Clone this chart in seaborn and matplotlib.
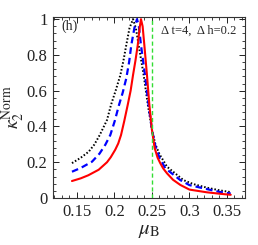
import numpy as np
import pandas as pd
import matplotlib
matplotlib.use("Agg")
import matplotlib.pyplot as plt
from matplotlib.ticker import MultipleLocator
import seaborn as sns

# values
red_x = [0.1433, 0.155, 0.165, 0.1789, 0.19, 0.195, 0.201, 0.205, 0.2087, 0.213, 0.2176, 0.2215,
         0.2247, 0.228, 0.231, 0.2335, 0.2353, 0.2375, 0.2398, 0.2433, 0.2465, 0.25, 0.2535,
         0.2575, 0.2611, 0.265, 0.27, 0.278, 0.2878, 0.30, 0.323, 0.34, 0.355]
red_y = [0.095, 0.11, 0.127, 0.158, 0.2, 0.228, 0.27, 0.305, 0.352, 0.43, 0.52, 0.60,
         0.687, 0.77, 0.855, 0.95, 1.0, 0.96, 0.855, 0.687, 0.52, 0.38, 0.28,
         0.225, 0.194, 0.165, 0.138, 0.102, 0.073, 0.047, 0.032, 0.024, 0.018]

blue_x = [0.1433, 0.155, 0.17, 0.18, 0.1878, 0.1944, 0.2003, 0.206, 0.211, 0.2157, 0.2195,
          0.2224, 0.2265, 0.23, 0.2325, 0.2353, 0.2407, 0.2455, 0.25, 0.2545, 0.26,
          0.2678, 0.2878, 0.30, 0.323, 0.34, 0.355]
blue_y = [0.147, 0.168, 0.203, 0.248, 0.298, 0.352, 0.43, 0.52, 0.59, 0.669, 0.76,
          0.855, 0.95, 1.0, 0.96, 0.855, 0.687, 0.52, 0.38, 0.29, 0.225,
          0.166, 0.10, 0.072, 0.05, 0.034, 0.025]

black_x = [0.1433, 0.155, 0.1656, 0.173, 0.1803, 0.19, 0.1953, 0.2015, 0.2078, 0.212, 0.2157, 0.22,
           0.2247, 0.2285, 0.2322, 0.2389, 0.2445, 0.25, 0.2545, 0.26, 0.27, 0.292,
           0.305, 0.323, 0.34, 0.355]
black_y = [0.195, 0.225, 0.259, 0.298, 0.352, 0.436, 0.52, 0.60, 0.687, 0.77, 0.855, 0.95,
           1.0, 0.95, 0.855, 0.687, 0.52, 0.38, 0.30, 0.245, 0.175, 0.10,
           0.078, 0.058, 0.043, 0.033]

mu_c = 0.25
x_ticks = [0.15, 0.2, 0.25, 0.3, 0.35]
x_tick_labels = ["0.15", "0.2", "0.25", "0.3", "0.35"]
y_ticks = [0, 0.2, 0.4, 0.6, 0.8, 1]
y_tick_labels = ["0", "0.2", "0.4", "0.6", "0.8", "1"]

sns.set_style("ticks")
plt.rcParams["font.family"] = ["Liberation Serif", "DejaVu Serif"]
plt.rcParams["mathtext.fontset"] = "stix"
plt.rcParams["axes.linewidth"] = 0.8

fig = plt.figure(figsize=(2.58, 2.45), dpi=100)
ax = fig.add_axes([0.2054, 0.1918, 0.7442, 0.7388])

sns.lineplot(x=black_x, y=black_y, ax=ax, color="black", lw=1.4,
             linestyle=(0, (0.8, 1.0)), sort=False, estimator=None)
sns.lineplot(x=blue_x, y=blue_y, ax=ax, color="#0000ff", lw=1.6,
             linestyle=(0, (3.0, 1.8)), sort=False, estimator=None)
sns.lineplot(x=red_x, y=red_y, ax=ax, color="#ff0000", lw=1.5,
             sort=False, estimator=None)
ax.axvline(mu_c, color="#33dd33", lw=1.0, linestyle=(0, (3, 2)))

ax.set_xlim(0.118, 0.374)
ax.set_ylim(0, 1.012)
ax.set_xticks(x_ticks)
ax.set_xticklabels(x_tick_labels)
ax.set_yticks(y_ticks)
ax.set_yticklabels(y_tick_labels)
ax.xaxis.set_minor_locator(MultipleLocator(0.01))
ax.yaxis.set_minor_locator(MultipleLocator(0.04))
ax.tick_params(which="both", direction="in", top=True, right=True, labelsize=12,
               colors="#222222")
ax.tick_params(which="major", length=4, width=0.7, pad=4)
ax.tick_params(which="minor", length=2, width=0.6)
for sp in ax.spines.values():
    sp.set_color("#333333")

ax.set_xlabel(r"$\mu_{\mathrm{B}}$", fontsize=15, labelpad=1)
ax.set_ylabel(r"$\kappa_2^{\mathrm{Norm}}$", fontsize=14)
ax.yaxis.set_label_coords(-0.135, 0.5)

ax.text(0.045, 0.985, "(h)", transform=ax.transAxes, ha="left", va="top", fontsize=10)
ax.text(0.955, 0.96, "Δ t=4,  Δ h=0.2", transform=ax.transAxes, ha="right", va="top",
        fontsize=9)

fig.savefig("out.png", dpi=100)
